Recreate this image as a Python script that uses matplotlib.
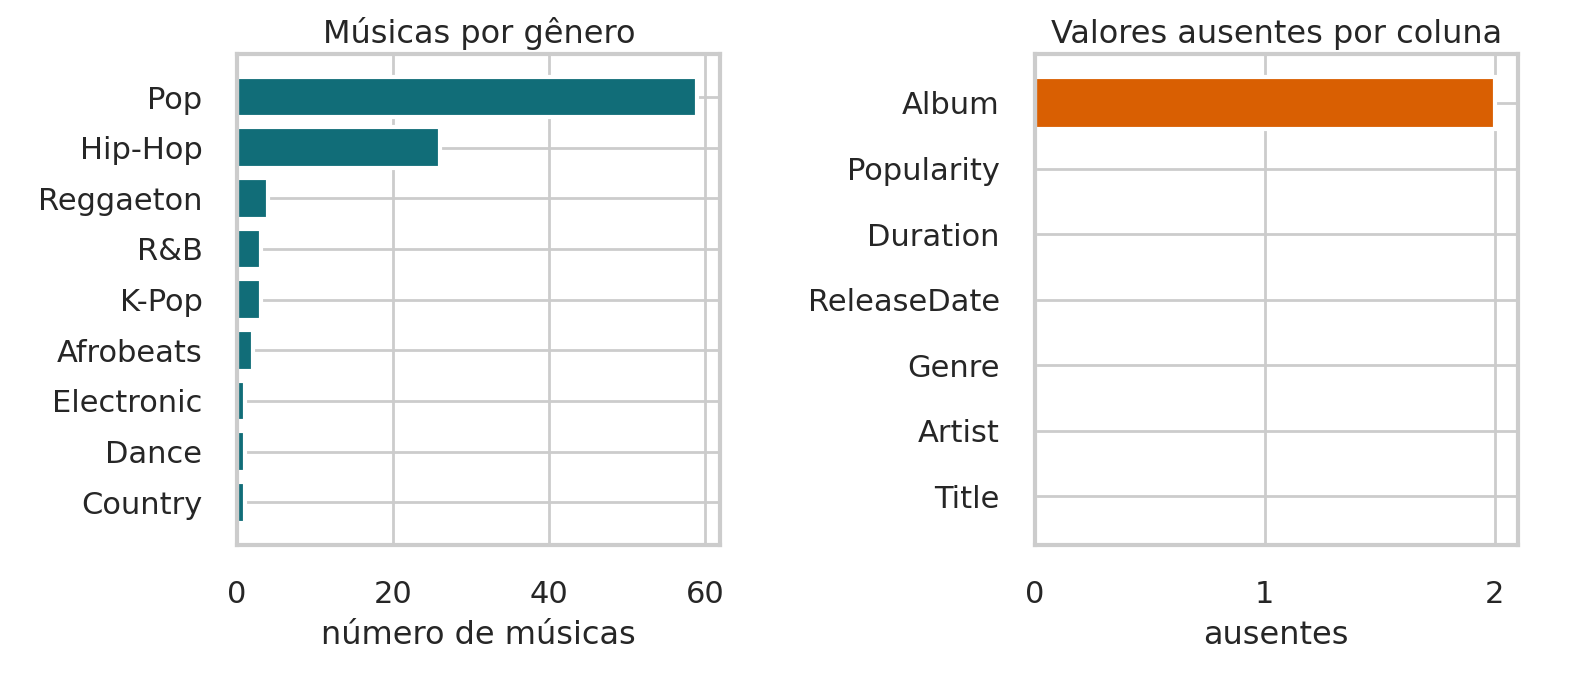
import matplotlib
matplotlib.use('Agg')
from matplotlib import pyplot as plt
import seaborn as sns

sns.set_theme(style='whitegrid', context='talk')
plt.rcParams['font.family'] = ['DejaVu Sans']

generos = ['Pop', 'Hip-Hop', 'Reggaeton', 'R&B', 'K-Pop', 'Afrobeats', 'Electronic', 'Dance', 'Country']
contagem = [59, 26, 4, 3, 3, 2, 1, 1, 1]

colunas = ['Album', 'Popularity', 'Duration', 'ReleaseDate', 'Genre', 'Artist', 'Title']
ausentes = [2, 0, 0, 0, 0, 0, 0]

fig, (ax1, ax2) = plt.subplots(1, 2, figsize=(7.905, 3.405), dpi=200)

ax1.barh(generos[::-1], contagem[::-1], color='#116d78')
ax1.set_title('Músicas por gênero', fontsize=11.5, pad=4)
ax1.set_xlabel('número de músicas', fontsize=11.5)
ax1.set_xticks([0, 20, 40, 60])
ax1.tick_params(labelsize=11)

ax2.barh(colunas[::-1], ausentes[::-1], color='#d95f02')
ax2.set_title('Valores ausentes por coluna', fontsize=11.5, pad=4)
ax2.set_xlabel('ausentes', fontsize=11.5)
ax2.set_xticks([0, 1, 2])
ax2.tick_params(labelsize=11)

for ax in (ax1, ax2):
    ax.grid(linewidth=1.0)
    for s in ax.spines.values():
        s.set_linewidth(1.5)

plt.tight_layout()
plt.subplots_adjust(left=0.15, right=0.96, top=0.92, bottom=0.2, wspace=0.65)
plt.savefig('out.png')
